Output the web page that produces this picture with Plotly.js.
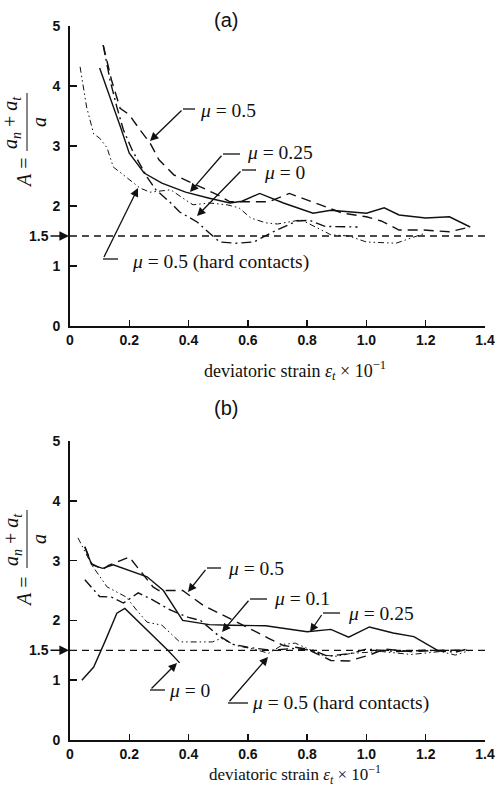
<!DOCTYPE html>
<html>
<head>
<meta charset="utf-8">
<script src="https://cdn.plot.ly/plotly-3.0.1.min.js"></script>
<style>
  html, body { margin: 0; padding: 0; background: #fff; }
  #chart { width: 497px; height: 788px; }
</style>
</head>
<body>
<div id="chart"></div>
<script>
// ---- Panel (a): anisotropy A versus deviatoric strain ----
const a_mu05_x   = [0.112, 0.14, 0.169, 0.2, 0.236, 0.27, 0.30, 0.35, 0.44, 0.50, 0.54, 0.62, 0.67, 0.74, 0.83, 0.92, 1.0, 1.05, 1.11, 1.19, 1.28, 1.35];
const a_mu05_y   = [4.68, 4.1, 3.63, 3.52, 3.27, 3.05, 2.77, 2.52, 2.32, 2.18, 2.07, 2.07, 2.07, 2.21, 2.05, 1.88, 1.82, 1.75, 1.6, 1.6, 1.57, 1.65];
const a_mu025_x  = [0.10, 0.135, 0.17, 0.20, 0.25, 0.31, 0.39, 0.47, 0.54, 0.58, 0.64, 0.72, 0.82, 0.88, 1.0, 1.06, 1.11, 1.2, 1.28, 1.35];
const a_mu025_y  = [4.3, 3.82, 3.32, 2.88, 2.55, 2.38, 2.23, 2.13, 2.05, 2.08, 2.21, 2.05, 1.88, 1.93, 1.88, 1.97, 1.85, 1.8, 1.82, 1.65];
const a_mu0_x    = [0.112, 0.135, 0.158, 0.18, 0.21, 0.26, 0.29, 0.34, 0.37, 0.43, 0.47, 0.505, 0.56, 0.62, 0.685, 0.765, 0.81, 0.86, 0.97];
const a_mu0_y    = [4.68, 4.1, 3.65, 3.27, 2.93, 2.48, 2.27, 2.05, 1.9, 1.73, 1.55, 1.4, 1.38, 1.4, 1.57, 1.75, 1.76, 1.66, 1.65];
const a_hard_x   = [0.034, 0.056, 0.08, 0.10, 0.125, 0.146, 0.19, 0.236, 0.27, 0.34, 0.39, 0.415, 0.47, 0.53, 0.57, 0.61, 0.66, 0.7, 0.78, 0.85, 0.88, 0.94, 1.0, 1.1, 1.15, 1.2];
const a_hard_y   = [4.32, 3.65, 3.2, 3.13, 2.97, 2.65, 2.48, 2.3, 2.23, 2.27, 2.1, 2.02, 2.05, 2.02, 1.97, 1.8, 1.72, 1.7, 1.77, 1.6, 1.52, 1.5, 1.4, 1.38, 1.47, 1.55];

// ---- Panel (b) ----
const b_mu0_x    = [0.04, 0.08, 0.12, 0.158, 0.185, 0.26, 0.33, 0.37];
const b_mu0_y    = [1.0, 1.22, 1.67, 2.12, 2.2, 1.84, 1.5, 1.29];
const b_mu01_x   = [0.05, 0.1, 0.14, 0.18, 0.23, 0.28, 0.34, 0.4, 0.44, 0.5, 0.55, 0.6, 0.68, 0.75, 0.82, 0.87, 0.95, 1.0, 1.1, 1.2, 1.3, 1.34];
const b_mu01_y   = [2.68, 2.4, 2.39, 2.29, 2.46, 2.34, 2.17, 2.05, 2.0, 1.75, 1.6, 1.55, 1.5, 1.53, 1.5, 1.4, 1.45, 1.52, 1.48, 1.5, 1.47, 1.52];
const b_mu025_x  = [0.05, 0.073, 0.11, 0.146, 0.26, 0.315, 0.38, 0.47, 0.54, 0.66, 0.80, 0.88, 0.94, 1.01, 1.09, 1.16, 1.24];
const b_mu025_y  = [3.23, 2.93, 2.87, 2.93, 2.73, 2.5, 2.0, 1.93, 1.92, 1.91, 1.81, 1.85, 1.72, 1.89, 1.79, 1.73, 1.5];
const b_mu05_x   = [0.05, 0.073, 0.11, 0.13, 0.2, 0.24, 0.28, 0.3, 0.38, 0.45, 0.52, 0.6, 0.67, 0.72, 0.8, 0.84, 0.88, 0.94, 1.01, 1.06, 1.15, 1.25, 1.34];
const b_mu05_y   = [3.23, 2.95, 2.85, 2.92, 3.06, 2.8, 2.56, 2.5, 2.5, 2.25, 2.08, 1.88, 1.7, 1.58, 1.52, 1.42, 1.33, 1.32, 1.42, 1.52, 1.48, 1.5, 1.5];
const b_hard_x   = [0.027, 0.073, 0.125, 0.19, 0.225, 0.26, 0.31, 0.37, 0.48, 0.51, 0.56, 0.62, 0.67, 0.72, 0.76, 0.85, 0.9, 0.95, 1.05, 1.15, 1.25, 1.3, 1.35];
const b_hard_y   = [3.38, 2.93, 2.56, 2.39, 2.17, 1.97, 1.92, 1.64, 1.64, 1.7, 1.58, 1.52, 1.45, 1.6, 1.62, 1.42, 1.4, 1.45, 1.48, 1.43, 1.48, 1.42, 1.5];

// Isotropic reference level and axis ticks
const refLevel   = 1.5;
const refX       = [0, 1.4];
const xTickVals  = [0, 0.2, 0.4, 0.6, 0.8, 1.0, 1.2, 1.4];
const xTickText  = ['0', '0.2', '0.4', '0.6', '0.8', '1.0', '1.2', '1.4'];
const yTickVals  = [0, 1, 2, 3, 4, 5];
const yTickText  = ['0', '1', '2', '3', '4', '5'];

// ---- styling ----
const INK = '#111';
const W = 497, H = 788, ML = 70, MR = 12;
const PW = W - ML - MR;
const px = v => (v - ML) / PW;        // page pixel -> paper x
const py = v => (H - v) / H;          // page pixel -> paper y

const STY = {
  solid:   { color: INK, width: 1.4, dash: 'solid' },
  longdash:{ color: INK, width: 1.4, dash: '10px,6px' },
  dashdot: { color: INK, width: 1.4, dash: '10px,4px,2px,4px' },
  dd:      { color: INK, width: 1.0, dash: '6px,3px,1.5px,3px,1.5px,3px' },
  ref:     { color: INK, width: 1.3, dash: '7px,5px' }
};

function line(x, y, style, xa, ya) {
  return { type: 'scatter', mode: 'lines', x: x, y: y, xaxis: xa, yaxis: ya,
           line: Object.assign({ shape: 'linear' }, style), hoverinfo: 'skip', showlegend: false };
}

const traces = [
  line(refX, [refLevel, refLevel], STY.ref, 'x', 'y'),
  line(a_mu05_x, a_mu05_y, STY.longdash, 'x', 'y'),
  line(a_mu025_x, a_mu025_y, STY.solid, 'x', 'y'),
  line(a_mu0_x, a_mu0_y, STY.dashdot, 'x', 'y'),
  line(a_hard_x, a_hard_y, STY.dd, 'x', 'y'),

  line(refX, [refLevel, refLevel], STY.ref, 'x2', 'y2'),
  line(b_mu0_x, b_mu0_y, STY.solid, 'x2', 'y2'),
  line(b_mu01_x, b_mu01_y, STY.dashdot, 'x2', 'y2'),
  line(b_mu025_x, b_mu025_y, STY.solid, 'x2', 'y2'),
  line(b_mu05_x, b_mu05_y, STY.longdash, 'x2', 'y2'),
  line(b_hard_x, b_hard_y, STY.dd, 'x2', 'y2')
];

const tickFont = { family: 'Liberation Sans, Arial, sans-serif', size: 14, color: INK };
const bold = t => '<b>' + t + '</b>';
const serif = 'Liberation Serif, Times New Roman, serif';
const labelSize = 19.5;

function xAxis(anchor) {
  return {
    domain: [0, 1], anchor: anchor, range: [0, 1.4],
    showgrid: false, zeroline: false, showline: true, linecolor: INK, linewidth: 1.8,
    ticks: 'inside', ticklen: 6, tickwidth: 1.5, tickcolor: INK,
    tickvals: xTickVals, ticktext: xTickText.map(bold), tickfont: tickFont,
    ticklabelstandoff: 0, automargin: false, fixedrange: true
  };
}
function yAxis(anchor, dom) {
  return {
    domain: dom, anchor: anchor, range: [0, 5],
    showgrid: false, zeroline: false, showline: true, linecolor: INK, linewidth: 1.8,
    ticks: 'inside', ticklen: 7, tickwidth: 1.5, tickcolor: INK,
    tickvals: yTickVals, ticktext: yTickText.map(bold), tickfont: tickFont,
    ticklabelstandoff: 5, automargin: false, fixedrange: true
  };
}

const shapes = [];
const annotations = [];

function text(t, x, y, opts) {
  annotations.push(Object.assign({
    text: t, xref: 'paper', yref: 'paper', x: px(x), y: py(y),
    showarrow: false, xanchor: 'center', yanchor: 'middle',
    font: { family: serif, size: labelSize, color: INK }
  }, opts || {}));
}

// bent leader: short horizontal stub then an arrow to the curve
function leader(label, labelX, labelY, stubL, stubR, stubY, headX, headY) {
  shapes.push({ type: 'line', xref: 'paper', yref: 'paper',
    x0: px(stubL), x1: px(stubR), y0: py(stubY), y1: py(stubY),
    line: { color: INK, width: 1.3 } });
  annotations.push({ text: ' ', xref: 'paper', yref: 'paper', x: px(headX), y: py(headY),
    ax: stubL - headX, ay: stubY - headY, showarrow: true, font: { size: 1 },
    arrowhead: 2, arrowsize: 1.3, arrowwidth: 1.3, arrowcolor: INK, standoff: 0, startstandoff: 0 });
  text(label, labelX, labelY, { xanchor: 'left' });
}

// panel titles
text('(a)', 226, 20, { font: { family: 'Liberation Sans, Arial, sans-serif', size: 20, color: INK } });
text('(b)', 226, 408, { font: { family: 'Liberation Sans, Arial, sans-serif', size: 20, color: INK } });

// x-axis titles
const xTitle = 'deviatoric strain <i>ε</i><sub><i>t</i></sub> × 10<sup>−1</sup>';
text(xTitle, 295, 370, { font: { family: serif, size: 18, color: INK } });
text(xTitle, 295, 788, { yanchor: 'bottom', borderpad: 0, font: { family: serif, size: 17, color: INK } });

// y-axis titles:  A = (a_n + a_t) / a, set vertically
function yTitle(cy, eqY) {
  const f = { family: serif, size: 20, color: INK };
  text('<i>A</i> =', 24, eqY, { textangle: -90, font: f });
  text('<i>a</i><sub><i>n</i></sub> + <i>a</i><sub><i>t</i></sub>', 12, cy, { textangle: -90, font: f });
  text('<i>a</i>', 39, cy, { textangle: -90, font: f });
  shapes.push({ type: 'line', xref: 'paper', yref: 'paper',
    x0: px(27), x1: px(27), y0: py(cy - 29), y1: py(cy + 29), line: { color: INK, width: 1 } });
}
yTitle(122, 173);
yTitle(539, 592);

// the 1.5 marker with its arrow on each vertical axis
[['x', 'y'], ['x2', 'y2']].forEach(([xa, ya]) => {
  annotations.push({ text: bold('1.5'), xref: xa, yref: ya, x: 0, y: refLevel,
    ax: -31, ay: 0, showarrow: true, arrowhead: 2, arrowsize: 1.2, arrowwidth: 1.6,
    arrowcolor: INK, standoff: 1, font: tickFont });
});

// curve labels, panel (a)
leader('<i>μ</i> = 0.5', 198, 110, 183, 195, 109, 150, 141);
leader('<i>μ</i> = 0.25', 245, 152, 223, 240, 154, 190, 192);
leader('<i>μ</i> = 0', 262, 172, 242, 256, 170, 197, 216);
leader('<i>μ</i> = 0.5 (hard contacts)', 130, 262, 103, 118, 259, 138, 188);

// curve labels, panel (b)
leader('<i>μ</i> = 0.5', 226, 568, 207, 221, 568, 188, 592);
leader('<i>μ</i> = 0.1', 272, 598, 250, 267, 599, 222, 632);
leader('<i>μ</i> = 0.25', 346, 613, 323, 340, 613, 310, 632);
leader('<i>μ</i> = 0', 167, 690, 150, 165, 690, 177, 663);
leader('<i>μ</i> = 0.5 (hard contacts)', 250, 703, 228, 248, 703, 268, 657);

const layout = {
  width: W, height: H,
  margin: { l: ML, r: MR, t: 0, b: 0 },
  paper_bgcolor: '#fff', plot_bgcolor: '#fff',
  showlegend: false,
  xaxis: xAxis('y'),
  yaxis: yAxis('x', [py(326), py(26)]),
  xaxis2: xAxis('y2'),
  yaxis2: yAxis('x2', [py(740), py(441)]),
  shapes: shapes,
  annotations: annotations
};

Plotly.newPlot('chart', traces, layout, { staticPlot: true, displayModeBar: false });
</script>
</body>
</html>
